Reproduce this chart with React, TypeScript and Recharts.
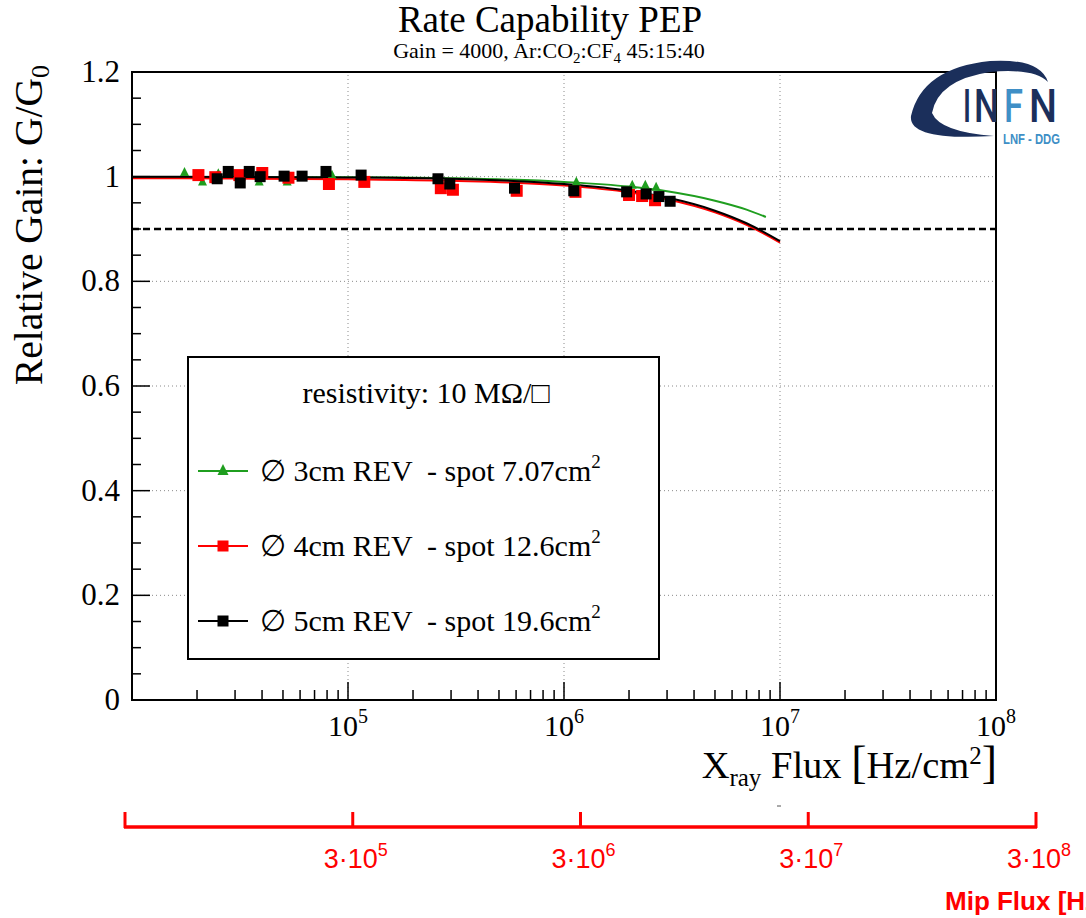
import React from 'react';
import {
  ComposedChart,
  Line,
  Scatter,
  XAxis,
  YAxis,
  ReferenceLine,
} from 'recharts';

const W = 1086;
const H = 918;
const PLOT = { left: 132, top: 72, right: 996, bottom: 700 };
const SERIF = '"Liberation Serif", "Times New Roman", serif';
const SANS = '"Liberation Sans", Arial, sans-serif';

// measured points: X-ray flux [Hz/cm2] and relative gain
const greenFlux = [1.75e4, 2.12e4, 2.51e4, 3.88e4, 5.23e4, 8.43e4, 1.14e6, 2.07e6, 2.38e6, 2.67e6];
const greenGain = [1.008, 0.99, 1.006, 0.99, 0.99, 1.003, 0.99, 0.984, 0.984, 0.98];

const redFlux = [2.03e4, 2.43e4, 3.14e4, 4.01e4, 5.3e4, 8.16e4, 1.19e5, 2.69e5, 3.06e5, 6.04e5, 1.13e6, 2.0e6, 2.3e6, 2.64e6];
const redGain = [1.003, 0.999, 1.003, 1.007, 0.998, 0.986, 0.99, 0.978, 0.975, 0.973, 0.971, 0.965, 0.963, 0.955];

const blackFlux = [2.48e4, 2.79e4, 3.17e4, 3.49e4, 3.92e4, 5.06e4, 6.13e4, 7.91e4, 1.15e5, 2.61e5, 2.96e5, 5.9e5, 1.11e6, 1.95e6, 2.4e6, 2.75e6, 3.1e6];
const blackGain = [0.996, 1.01, 0.988, 1.01, 1.0, 1.001, 1.001, 1.01, 1.003, 0.996, 0.986, 0.978, 0.973, 0.971, 0.967, 0.962, 0.953];

// fit curves
const fitFlux = [1e4, 3e4, 1e5, 3e5, 1e6, 2e6, 3e6, 5e6, 7e6, 1e7];
const blackFit = [1.0, 0.9996, 0.9986, 0.996, 0.986, 0.973, 0.96, 0.935, 0.911, 0.877];
const redFit = [0.997, 0.9965, 0.995, 0.992, 0.983, 0.97, 0.957, 0.932, 0.908, 0.874];
const greenFitFlux = [1e4, 3e4, 1e5, 3e5, 1e6, 2e6, 3e6, 5e6, 7e6, 8.6e6];
const greenFit = [0.999, 0.999, 0.999, 0.997, 0.99, 0.981, 0.972, 0.954, 0.937, 0.923];

// axes
const xMajor = [1e5, 1e6, 1e7, 1e8];
const xMinor = [
  2e4, 3e4, 4e4, 5e4, 6e4, 7e4, 8e4, 9e4,
  2e5, 3e5, 4e5, 5e5, 6e5, 7e5, 8e5, 9e5,
  2e6, 3e6, 4e6, 5e6, 6e6, 7e6, 8e6, 9e6,
  2e7, 3e7, 4e7, 5e7, 6e7, 7e7, 8e7, 9e7,
];
const yMajor = [0, 0.2, 0.4, 0.6, 0.8, 1, 1.2];
const yMinor = [0.05, 0.1, 0.15, 0.25, 0.3, 0.35, 0.45, 0.5, 0.55, 0.65, 0.7, 0.75, 0.85, 0.9, 0.95, 1.05, 1.1, 1.15];
const threshold = 0.9;

// second (MIP) axis
const mipTicks = [3e4, 3e5, 3e6, 3e7, 3e8];
const mipLabelExp = ['', '5', '6', '7', '8'];

const legendTitle = 'resistivity: 10 M\u03A9/\u25A1';
const seriesLabels = [
  { pre: '\u2205 3cm REV  - spot 7.07cm', color: '#1f9e1f', marker: 'tri' },
  { pre: '\u2205 4cm REV  - spot 12.6cm', color: '#ff0000', marker: 'sq' },
  { pre: '\u2205 5cm REV  - spot 19.6cm', color: '#000000', marker: 'sq' },
];

// logo letters
const logoLetters = [
  { ch: 'I', x: 963, w: 8, color: '#1b2f5b' },
  { ch: 'N', x: 974, w: 25, color: '#1b2f5b' },
  { ch: 'F', x: 1004, w: 19, color: '#3f8fc6' },
  { ch: 'N', x: 1029, w: 28, color: '#1b2f5b' },
];

const toRows = (xs: number[], ys: number[]) => xs.map((flux, i) => ({ flux, g: ys[i] }));

const greenPts = toRows(greenFlux, greenGain);
const redPts = toRows(redFlux, redGain);
const blackPts = toRows(blackFlux, blackGain);
const greenLine = toRows(greenFitFlux, greenFit);
const redLine = toRows(fitFlux, redFit);
const blackLine = toRows(fitFlux, blackFit);

const XTick = (props: any) => {
  const { x, y, payload } = props;
  const v = payload.value;
  const major = xMajor.includes(v);
  return (
    <g>
      <line x1={x} x2={x} y1={y} y2={y - (major ? 18 : 10)} stroke="#000" strokeWidth={1.5} />
      {major && (
        <text x={x} y={y + 36} textAnchor="middle" fontFamily={SERIF} fontSize={30} fill="#000">
          10<tspan dy={-13} fontSize={20}>{Math.round(Math.log10(v))}</tspan>
        </text>
      )}
    </g>
  );
};

const YTick = (props: any) => {
  const { x, y, payload } = props;
  const v = payload.value;
  const major = yMajor.includes(v);
  return (
    <g>
      <line x1={x} x2={x + (major ? 18 : 9)} y1={y} y2={y} stroke="#000" strokeWidth={1.5} />
      {major && (
        <text x={x - 12} y={y + 10} textAnchor="end" fontFamily={SERIF} fontSize={31} fill="#000">
          {String(v)}
        </text>
      )}
    </g>
  );
};

const Tri = (color: string, s: number) => (p: any) => (
  <polygon
    points={`${p.cx},${p.cy - s * 0.6} ${p.cx - s / 2},${p.cy + s * 0.4} ${p.cx + s / 2},${p.cy + s * 0.4}`}
    fill={color}
  />
);
const Sq = (color: string, s: number) => (p: any) => (
  <rect x={p.cx - s / 2} y={p.cy - s / 2} width={s} height={s} fill={color} />
);

function Overlay() {
  const mipX = (v: number) => 125 + (Math.log10(v) - Math.log10(mipTicks[0])) * 227.75;
  return (
    <svg width={W} height={H} style={{ position: 'absolute', left: 0, top: 0, pointerEvents: 'none' }}>
      {/* titles */}
      <text x={550} y={32} textAnchor="middle" fontFamily={SERIF} fontSize={37} fill="#000">
        Rate Capability PEP
      </text>
      <text x={549} y={58} textAnchor="middle" fontFamily={SERIF} fontSize={22} fill="#000">
        Gain = 4000, Ar:CO<tspan dy={5} fontSize={15}>2</tspan>
        <tspan dy={-5}>:CF</tspan>
        <tspan dy={5} fontSize={15}>4</tspan>
        <tspan dy={-5}> 45:15:40</tspan>
      </text>
      <text transform="translate(42,65) rotate(-90)" textAnchor="end" fontFamily={SERIF} fontSize={39.5} fill="#000">
        Relative Gain: G/G<tspan dy={7} fontSize={26}>0</tspan>
      </text>
      <text x={997} y={778} textAnchor="end" fontFamily={SERIF} fontSize={38.5} fill="#000">
        X<tspan dy={8} fontSize={25}>ray</tspan>
        <tspan dy={-8}> Flux </tspan>
        <tspan fontSize={46}>[</tspan>Hz/cm<tspan dy={-14} fontSize={25}>2</tspan>
        <tspan dy={14} fontSize={46}>]</tspan>
      </text>

      {/* frame */}
      <rect
        x={PLOT.left}
        y={PLOT.top}
        width={PLOT.right - PLOT.left}
        height={PLOT.bottom - PLOT.top}
        fill="none"
        stroke="#000"
        strokeWidth={2}
      />

      {/* legend */}
      <rect x={188} y={357} width={471} height={302} fill="#fff" stroke="#000" strokeWidth={2} />
      <text x={426} y={403} textAnchor="middle" fontFamily={SERIF} fontSize={30} fill="#000">
        {legendTitle}
      </text>
      {seriesLabels.map((s, i) => {
        const cy = 471 + i * 75;
        return (
          <g key={i}>
            <line x1={198} x2={248} y1={cy} y2={cy} stroke={s.color} strokeWidth={2} />
            {s.marker === 'tri' ? (
              <polygon points={`223,${cy - 7} 217.5,${cy + 4} 228.5,${cy + 4}`} fill={s.color} />
            ) : (
              <rect x={217.5} y={cy - 5.5} width={11} height={11} fill={s.color} />
            )}
            <text x={260} y={cy + 10} fontFamily={SERIF} fontSize={30} fill="#000" style={{ whiteSpace: 'pre' }}>
              {s.pre}
              <tspan dy={-13} fontSize={19}>2</tspan>
            </text>
          </g>
        );
      })}

      {/* MIP flux axis */}
      <line x1={124} x2={1037} y1={827} y2={827} stroke="#ff0000" strokeWidth={3.5} />
      {mipTicks.map((v, i) => (
        <g key={v}>
          <line x1={mipX(v)} x2={mipX(v)} y1={812} y2={828} stroke="#ff0000" strokeWidth={3} />
          {mipLabelExp[i] && (
            <text x={mipX(v) + 3} y={868} textAnchor="middle" fontFamily={SANS} fontSize={27} fill="#ff0000">
              3{'\u00B7'}10<tspan dy={-12} fontSize={18}>{mipLabelExp[i]}</tspan>
            </text>
          )}
        </g>
      ))}
      <line x1={777} x2={781} y1={806} y2={806} stroke="#555" strokeWidth={1} />
      <text x={945} y={910} fontFamily={SANS} fontWeight="bold" fontSize={26} fill="#ff0000">
        Mip Flux [Hz/cm<tspan dy={-10} fontSize={17}>2</tspan>
        <tspan dy={10}>]</tspan>
      </text>

      {/* INFN logo */}
      <path
        d="M 1048 82 Q 1040 58 990 61 Q 922 68 911 116 Q 908 141 994 136 Q 940 132 932 113 Q 938 80 990 72 Q 1034 68 1048 82 Z"
        fill="#1b2f5b"
      />
      {logoLetters.map((l, i) => (
        <text
          key={i}
          x={l.x}
          y={122}
          fontFamily="Roboto, sans-serif"
          fontWeight={500}
          fontSize={46}
          fill={l.color}
          textLength={l.w}
          lengthAdjust="spacingAndGlyphs"
        >
          {l.ch}
        </text>
      ))}
      <text
        x={1003}
        y={144}
        fontFamily={SANS}
        fontWeight="bold"
        fontSize={14}
        fill="#3f8fc6"
        textLength={57}
        lengthAdjust="spacingAndGlyphs"
      >
        LNF - DDG
      </text>
    </svg>
  );
}

export default function App() {
  return (
    <div style={{ position: 'absolute', left: 0, top: 0, width: W, height: H, background: '#fff', overflow: 'hidden' }}>
      <ComposedChart
        width={W}
        height={H}
        margin={{ top: PLOT.top, right: W - PLOT.right, bottom: H - PLOT.bottom - 1, left: PLOT.left - 1 }}
      >
        <XAxis
          dataKey="flux"
          type="number"
          scale="log"
          domain={[1e4, 1e8]}
          allowDataOverflow
          ticks={[...xMajor, ...xMinor]}
          interval={0}
          tick={(p: any) => <XTick {...p} />}
          tickSize={0}
          tickMargin={0}
          tickLine={false}
          axisLine={false}
          height={1}
        />
        <YAxis
          dataKey="g"
          type="number"
          domain={[0, 1.2]}
          allowDataOverflow
          ticks={[...yMajor, ...yMinor]}
          interval={0}
          tick={(p: any) => <YTick {...p} />}
          tickSize={0}
          tickMargin={0}
          tickLine={false}
          axisLine={false}
          width={1}
        />
        {xMajor.slice(0, 3).map((v) => (
          <ReferenceLine key={`gx${v}`} x={v} stroke="#8a8a8a" strokeWidth={1} strokeDasharray="1 3" />
        ))}
        {yMajor.slice(1, 6).map((v) => (
          <ReferenceLine key={`gy${v}`} y={v} stroke="#8a8a8a" strokeWidth={1} strokeDasharray="1 3" />
        ))}
        <ReferenceLine y={threshold} stroke="#000" strokeWidth={2.5} strokeDasharray="7 4" />

        <Scatter data={greenPts} fill="#1f9e1f" shape={Tri('#1f9e1f', 9)} isAnimationActive={false} />
        <Scatter data={redPts} fill="#ff0000" shape={Sq('#ff0000', 12)} isAnimationActive={false} />
        <Scatter data={blackPts} fill="#000" shape={Sq('#000', 11)} isAnimationActive={false} />

        <Line data={greenLine} dataKey="g" type="monotone" stroke="#1f9e1f" strokeWidth={2} dot={false} isAnimationActive={false} />
        <Line data={redLine} dataKey="g" type="monotone" stroke="#ff0000" strokeWidth={2} dot={false} isAnimationActive={false} />
        <Line data={blackLine} dataKey="g" type="monotone" stroke="#000" strokeWidth={2} dot={false} isAnimationActive={false} />
      </ComposedChart>
      <Overlay />
    </div>
  );
}
